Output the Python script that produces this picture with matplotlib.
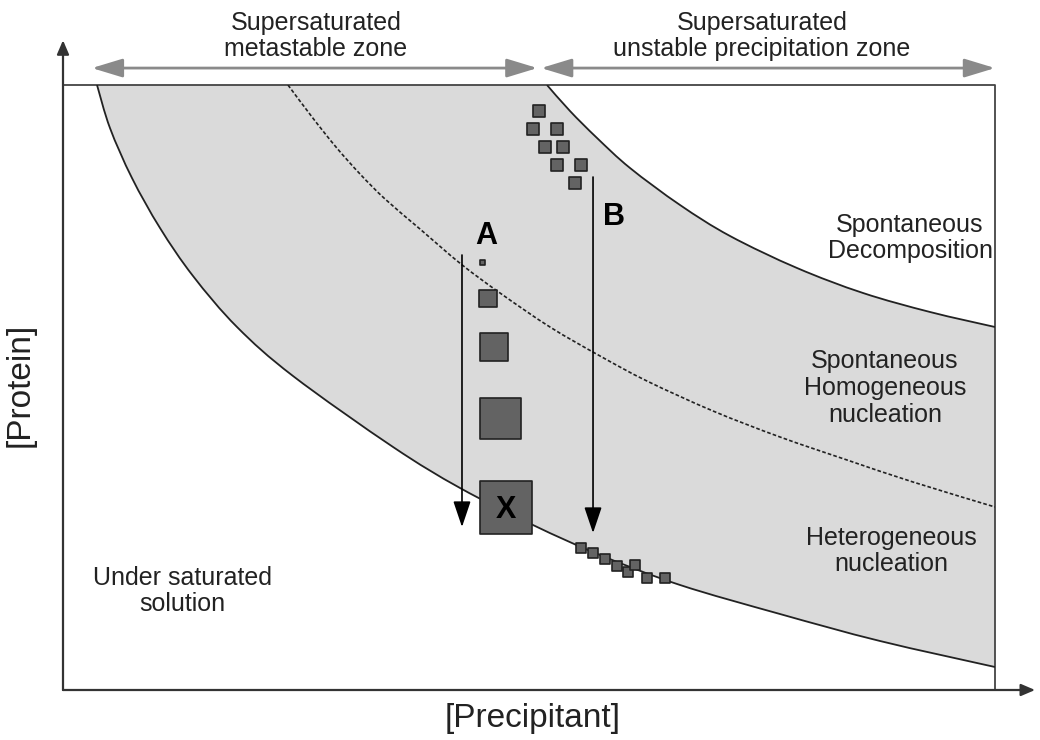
import numpy as np
import matplotlib
matplotlib.use("Agg")
import matplotlib.pyplot as plt
from matplotlib.path import Path
from matplotlib.patches import PathPatch

plt.rcParams['font.family'] = ['Liberation Sans', 'DejaVu Sans']

# --- curves (precipitant %, protein %) ---
solubility_x = [3.65, 5.04, 7.40, 10.41, 13.95, 18.67, 24.68, 35.41, 42.60,
                50.43, 57.62, 66.20, 76.93, 87.66, 100.0]
solubility_y = [100.0, 92.89, 84.63, 76.36, 68.43, 60.0, 51.90, 40.17, 33.39,
                27.27, 22.31, 17.36, 12.56, 8.10, 3.80]

precip_x = [51.93, 54.40, 57.30, 60.84, 66.20, 71.57, 78.76, 85.84, 93.03, 100.0]
precip_y = [100.0, 95.70, 91.24, 86.28, 80.17, 75.04, 69.75, 65.62, 62.48, 60.0]

nucl_x = [24.14, 26.72, 29.29, 31.87, 34.55, 38.30, 42.70, 46.89, 52.25, 57.62,
          62.66, 69.74, 76.93, 84.12, 91.20, 100.0]
nucl_y = [100.0, 94.71, 89.75, 85.29, 81.16, 76.20, 70.41, 65.62, 60.0, 55.21,
          51.07, 46.12, 41.82, 38.02, 34.38, 30.25]

# path A: few crystals that grow
crystal_a_x = [44.99, 45.60, 46.24, 46.94, 47.53]
crystal_a_y = [70.66, 64.71, 56.69, 44.88, 30.17]
crystal_a_size = [4, 12.7, 20.5, 30, 38]

# path B: many small crystals
shower_top_x = [51.11, 50.40, 52.97, 51.72, 53.62, 52.97, 55.58, 54.94]
shower_top_y = [95.70, 92.68, 92.68, 89.80, 89.80, 86.78, 86.78, 83.75]
shower_bot_x = [55.58, 56.83, 58.15, 59.47, 60.66, 61.37, 62.63, 64.59]
shower_bot_y = [23.52, 22.60, 21.60, 20.55, 19.55, 20.66, 18.46, 18.46]

path_x = {"A": 42.81, "B": 56.87}
path_start = {"A": 71.90, "B": 84.79}
path_end = {"A": 26.94, "B": 25.95}

zone_edges = [3.1, 50.9, 51.3, 100.0]


def smooth_verts(xs, ys):
    """Bezier segments passing through every read point (Catmull-Rom style)."""
    p = np.column_stack([xs, ys]).astype(float)
    n = len(p)
    verts, codes = [p[0]], [Path.MOVETO]
    for i in range(n - 1):
        p0 = p[i - 1] if i > 0 else p[i]
        p3 = p[i + 2] if i + 2 < n else p[i + 1]
        c1 = p[i] + (p[i + 1] - p0) / 6
        c2 = p[i + 1] - (p3 - p[i]) / 6
        verts += [c1, c2, p[i + 1]]
        codes += [Path.CURVE4] * 3
    return verts, codes


fig = plt.figure(figsize=(10.4, 7.4), dpi=100)
ax = fig.add_axes([63 / 1040, 50 / 740, 932 / 1040, 605 / 740])
ax.set_xlim(0, 100)
ax.set_ylim(0, 100)
ax.axis('off')

# grey supersaturated band
lo_v, lo_c = smooth_verts(solubility_x, solubility_y)
up_v, up_c = smooth_verts(precip_x[::-1], precip_y[::-1])
band_v = lo_v + up_v + [lo_v[0]]
band_c = lo_c + [Path.LINETO] + up_c[1:] + [Path.CLOSEPOLY]
ax.add_patch(PathPatch(Path(band_v, band_c), facecolor='#dadada', lw=0, zorder=1))

for xs, ys, style in [(solubility_x, solubility_y, '-'), (precip_x, precip_y, '-'),
                      (nucl_x, nucl_y, (0, (2.2, 1.3)))]:
    v, c = smooth_verts(xs, ys)
    lw = 1.3 if style == '-' else 1.2
    ax.add_patch(PathPatch(Path(v, c), fill=False, edgecolor='#222222', lw=lw,
                           linestyle=style, zorder=3))

# frame + axes with arrows
ax.plot([0, 100, 100], [100, 100, 0], color='#444444', lw=1.3, zorder=2, clip_on=False)
axis_arrow = dict(arrowstyle='-|>,head_length=0.7,head_width=0.3', color='#333333', lw=1.6,
                  mutation_scale=12, shrinkA=0, shrinkB=0)
ax.annotate('', xy=(0, 107.4), xytext=(0, 0), arrowprops=axis_arrow, annotation_clip=False)
ax.annotate('', xy=(104.3, 0), xytext=(0, 0), arrowprops=axis_arrow, annotation_clip=False)

# zone arrows at top
zone_arrow = dict(arrowstyle='<|-|>,head_length=1.25,head_width=0.38', color='#8a8a8a', lw=2,
                  mutation_scale=15, shrinkA=0, shrinkB=0)
ax.annotate('', xy=(zone_edges[0], 102.8), xytext=(zone_edges[1], 102.8),
            arrowprops=zone_arrow, annotation_clip=False)
ax.annotate('', xy=(zone_edges[2], 102.8), xytext=(zone_edges[3], 102.8),
            arrowprops=zone_arrow, annotation_clip=False)

# crystals
ax.scatter(crystal_a_x, crystal_a_y, s=np.array(crystal_a_size) ** 2, marker='s',
           facecolor='#636363', edgecolor='#222222', lw=1.2, zorder=4)
ax.scatter(shower_top_x, shower_top_y, s=8.5 ** 2, marker='s',
           facecolor='#636363', edgecolor='#222222', lw=1.2, zorder=4)
ax.scatter(shower_bot_x, shower_bot_y, s=7.8 ** 2, marker='s',
           facecolor='#636363', edgecolor='#222222', lw=1.2, zorder=4)

# experiment paths
path_arrow = dict(arrowstyle='-|>,head_length=0.8,head_width=0.27', color='black', lw=1.2,
                  mutation_scale=20, shrinkA=0, shrinkB=0)
for key in ["A", "B"]:
    ax.annotate('', xy=(path_x[key], path_end[key]), xytext=(path_x[key], path_start[key]),
                arrowprops=path_arrow, zorder=5)

ax.text(45.39, 75.04, 'A', fontsize=22, fontweight='bold', ha='center', va='center', zorder=6)
ax.text(59.12, 78.1, 'B', fontsize=22, fontweight='bold', ha='center', va='center', zorder=6)
ax.text(47.53, 29.75, 'X', fontsize=22, fontweight='bold', ha='center', va='center', zorder=6)

txt = dict(fontsize=18, ha='center', va='center', color='#222222', linespacing=1.15)
ax.text(27.15, 108.1, 'Supersaturated\nmetastable zone', clip_on=False, **txt)
ax.text(75.0, 108.1, 'Supersaturated\nunstable precipitation zone', clip_on=False, **txt)
ax.text(90.88, 74.71, 'Spontaneous\nDecomposition', **txt)
ax.text(88.2, 49.9, 'Spontaneous\nHomogeneous\nnucleation', **txt)
ax.text(88.84, 22.98, 'Heterogeneous\nnucleation', **txt)
ax.text(12.77, 16.36, 'Under saturated\nsolution', **txt)

fig.text(20 / 1040, 1 - 385 / 740, '[Protein]', rotation=90, fontsize=24,
         ha='center', va='center', color='#222222')
fig.text(533 / 1040, 1 - 718 / 740, '[Precipitant]', fontsize=24,
         ha='center', va='center', color='#222222')

fig.savefig('out.png', dpi=100, facecolor='white')
